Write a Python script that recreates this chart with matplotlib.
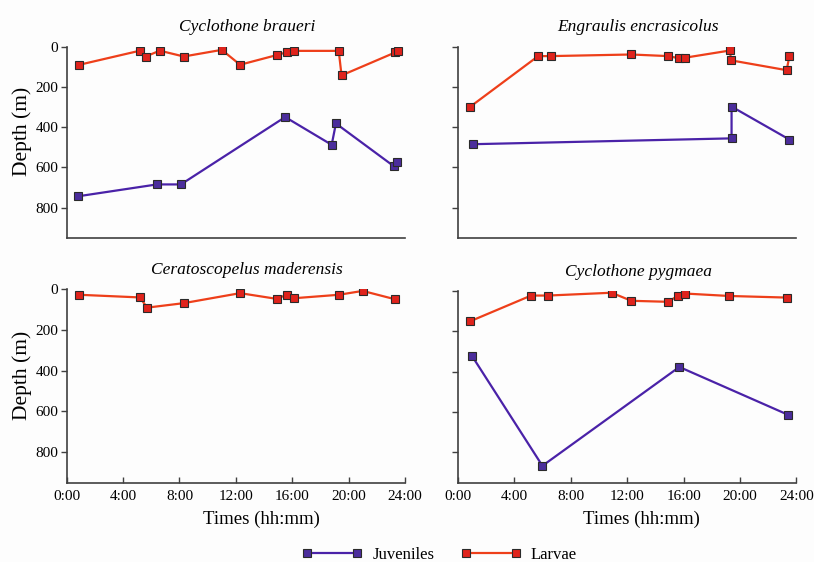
import matplotlib
matplotlib.use("Agg")
import matplotlib.pyplot as plt
from matplotlib.lines import Line2D

plt.rcParams["font.family"] = ["Liberation Serif", "DejaVu Serif"]

# times in decimal hours, depths in metres
braueri_larv_t = [0.9, 5.2, 5.6, 6.6, 8.3, 11.0, 12.3, 14.9, 15.6, 16.1, 19.3, 19.5, 23.3, 23.5]
braueri_larv_d = [90, 20, 49, 20, 49, 16, 90, 42, 28, 21, 21, 143, 29, 21]
braueri_juv_t = [0.8, 6.4, 8.1, 15.5, 18.8, 19.1, 23.2, 23.4]
braueri_juv_d = [744, 685, 685, 350, 488, 382, 594, 574]

engraulis_larv_t = [0.9, 5.7, 6.6, 12.3, 14.9, 15.7, 16.1, 19.3, 19.35, 23.3, 23.5]
engraulis_larv_d = [298, 47, 47, 39, 47, 58, 55, 19, 68, 117, 47]
engraulis_juv_t = [1.1, 19.4, 19.4, 23.5]
engraulis_juv_d = [485, 456, 298, 462]

cerato_larv_t = [0.9, 5.2, 5.7, 8.3, 12.3, 14.9, 15.6, 16.1, 19.3, 21.0, 23.3]
cerato_larv_d = [29, 42, 92, 70, 21, 49, 29, 46, 29, 10, 51]

pygmaea_larv_t = [0.9, 5.2, 6.4, 10.9, 12.3, 14.9, 15.6, 16.1, 19.2, 23.3]
pygmaea_larv_d = [149, 22, 22, 8, 48, 53, 23, 12, 24, 32]
pygmaea_juv_t = [1.0, 6.0, 15.7, 23.4]
pygmaea_juv_d = [320, 866, 376, 613]

titles = ["Cyclothone braueri", "Engraulis encrasicolus",
          "Ceratoscopelus maderensis", "Cyclothone pygmaea"]
xticks = [0, 4, 8, 12, 16, 20, 24]
xticklabels = ["0:00", "4:00", "8:00", "12:00", "16:00", "20:00", "24:00"]
yticks = [0, 200, 400, 600, 800]

juv_color = "#4a22a8"
juv_face = "#4b2d9c"
larv_color = "#ee3f1a"
larv_face = "#e0231c"
edge = "#2a2a2a"

panels = [
    (braueri_larv_t, braueri_larv_d, braueri_juv_t, braueri_juv_d),
    (engraulis_larv_t, engraulis_larv_d, engraulis_juv_t, engraulis_juv_d),
    (cerato_larv_t, cerato_larv_d, None, None),
    (pygmaea_larv_t, pygmaea_larv_d, pygmaea_juv_t, pygmaea_juv_d),
]

# axes boxes in figure fractions: left, bottom, width, height
boxes = [
    (0.082, 0.577, 0.4155, 0.340),
    (0.5623, 0.577, 0.4162, 0.340),
    (0.082, 0.141, 0.4155, 0.345),
    (0.5623, 0.141, 0.4162, 0.341),
]
xlabel_x = [None, None, 0.577, 0.541]

fig = plt.figure(figsize=(8.14, 5.62), dpi=100)
fig.patch.set_facecolor("#fdfdfd")

mk = dict(marker="s", markersize=5.5, markeredgecolor=edge, markeredgewidth=0.8)

for i, (box, data, title) in enumerate(zip(boxes, panels, titles)):
    ax = fig.add_axes(box)
    ax.set_facecolor("#fdfdfd")
    lt, ld, jt, jd = data
    if jt is not None:
        ax.plot(jt, jd, color=juv_color, lw=1.6, markerfacecolor=juv_face, **mk)
    ax.plot(lt, ld, color=larv_color, lw=1.6, markerfacecolor=larv_face, **mk)

    ax.set_xlim(0, 24)
    ax.set_ylim(950, 0)
    ax.set_yticks(yticks)
    ax.set_xticks(xticks)
    for s in ["top", "right"]:
        ax.spines[s].set_visible(False)
    for s in ["left", "bottom"]:
        ax.spines[s].set_color("#404040")
        ax.spines[s].set_linewidth(1.2)

    ax.tick_params(axis="y", direction="out", length=4, width=1, color="#404040",
                   labelsize=11, pad=2)
    if i < 2:
        ax.tick_params(axis="x", length=0, labelbottom=False)
    else:
        ax.set_xticklabels(xticklabels)
        ax.tick_params(axis="x", direction="in", length=4, width=1, color="#404040",
                       labelsize=11, pad=5)
        ax.set_xlabel("Times (hh:mm)", fontsize=13.5)
        ax.xaxis.set_label_coords(xlabel_x[i], -0.145)
    if i % 2 == 0:
        ax.set_ylabel("Depth (m)", fontsize=15.5)
        ax.yaxis.set_label_coords(-0.103, 0.555)
    else:
        ax.tick_params(axis="y", labelleft=False)

    ax.set_title(title, fontsize=12.5, style="italic", x=0.533, pad=11)

handles = [
    Line2D([], [], color=juv_color, lw=1.6, markerfacecolor=juv_face, **mk),
    Line2D([], [], color=larv_color, lw=1.6, markerfacecolor=larv_face, **mk),
]
fig.legend(handles, ["Juveniles", "Larvae"], loc="center", bbox_to_anchor=(0.54, 0.013),
           ncol=2, frameon=False, numpoints=2, handlelength=3.6, columnspacing=1.6,
           fontsize=12, handletextpad=0.6)

fig.savefig("out.png", dpi=100, facecolor=fig.get_facecolor())
